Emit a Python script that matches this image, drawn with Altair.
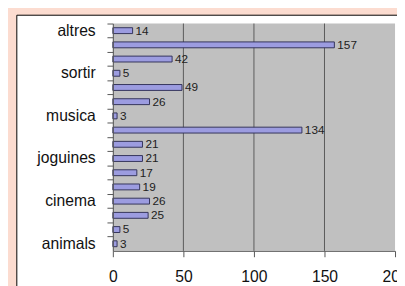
import json
import altair as alt
import pandas as pd

# Data (top to bottom as drawn)
labels = ["altres", "", "", "sortir", "", "", "musica", "", "", "joguines",
          "", "", "cinema", "", "", "animals"]
values = [14, 157, 42, 5, 49, 26, 3, 134, 21, 21, 17, 19, 26, 25, 5, 3]
grid_values = [50, 100, 150]
x_ticks = [0, 50, 100, 150, 200]

df = pd.DataFrame({"idx": list(range(len(values))), "v": values})
grid_df = pd.DataFrame({"v": grid_values})
one = pd.DataFrame({"a": [0]})

W, H = 288, 232
FONT = "Liberation Sans, Arial, sans-serif"

label_expr = json.dumps(labels) + "[datum.value]"

xscale = alt.Scale(domain=[0, 200], nice=False, zero=True)
yscale = alt.Scale(paddingInner=0, paddingOuter=0)
xaxis = alt.Axis(values=x_ticks, grid=False, tickSize=6, labelPadding=12,
                 labelFontSize=16, labelFont=FONT, labelColor="#111",
                 domainColor="#555", tickColor="#555", zindex=1,
                 labelBaseline="top", labelFlush=False)
yaxis = alt.Axis(bandPosition=0, tickSize=6, labelPadding=12,
                 labelExpr=label_expr, labelFontSize=16, labelFont=FONT,
                 labelColor="#111", domainColor="#555", tickColor="#555",
                 grid=False, zindex=1, labelAngle=0)

panel = alt.Chart(one).mark_rect(fill="white", stroke="black", strokeWidth=1).encode(
    x=alt.value(-98), x2=alt.value(600), y=alt.value(-8.5), y2=alt.value(600)
)

plotbg = alt.Chart(one).mark_rect(fill="#c0c0c0").encode(
    x=alt.value(0), x2=alt.value(W), y=alt.value(0), y2=alt.value(H)
)

grid = alt.Chart(grid_df).mark_rule(color="#5a5a5a", strokeWidth=1).encode(
    x=alt.X("v:Q", scale=xscale, title=None, axis=xaxis)
)

bars = alt.Chart(df).mark_bar(size=6, fill="#9c9ce0", stroke="#33335a", strokeWidth=1).encode(
    x=alt.X("v:Q", scale=xscale, title=None, axis=xaxis),
    y=alt.Y("idx:O", scale=yscale, title=None, axis=yaxis),
)

text = alt.Chart(df).mark_text(align="left", baseline="middle", dx=3, fontSize=12,
                               font=FONT, color="#222").encode(
    x=alt.X("v:Q", scale=xscale, title=None, axis=xaxis),
    y=alt.Y("idx:O", scale=yscale, title=None, axis=yaxis),
    text="v:Q",
)

chart = alt.layer(panel, plotbg, grid, bars, text).properties(
    width=W, height=H,
    autosize=alt.AutoSizeParams(type="none"),
    padding={"left": 107, "top": 13, "right": 2, "bottom": 33},
    background="#fcdcd0",
).configure_view(stroke=None)

chart.save("out.html", embed_options={"renderer": "svg", "actions": False})
